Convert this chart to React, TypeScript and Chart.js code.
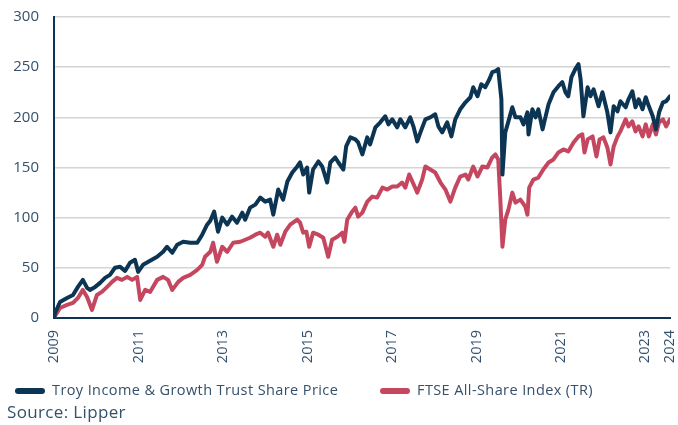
import React, { useEffect, useRef } from 'react';
import { Chart, registerables } from 'chart.js';

Chart.register(...registerables);

// x positions are months since the start of the series (Jan 2009 = 0)
const tickPositions = [0, 24, 48, 72, 96, 120, 144, 168, 175];
const tickLabels = ['2009', '2011', '2013', '2015', '2017', '2019', '2021', '2023', '2024'];
const yTicks = [0, 50, 100, 150, 200, 250, 300];

const seriesNames = ['Troy Income & Growth Trust Share Price', 'FTSE All-Share Index (TR)'];
const sourceText = 'Source: Lipper';

const troyMonths = [
  0, 0.3, 1.7, 3.7, 5.4, 6.8, 8.2, 9.4, 10.2, 11.7, 13.1, 14.5, 15.9, 17.3, 18.8, 20.2, 21.6, 23, 23.9, 25.3,
  27.3, 29.3, 31, 32.1, 33.6, 35, 36.7, 38.7, 40.7, 42.1, 43.5, 44.4, 45.5, 46.6, 47.8, 49.2, 50.6, 52, 53.5, 54.3,
  55.7, 57.2, 58.6, 60, 61.4, 62.3, 63.7, 65.1, 66.3, 67.7, 69.1, 69.9, 70.8, 71.9, 72.5, 73.6, 75.1, 76.2, 77.6, 78.5,
  79.9, 80.8, 82.2, 83, 84.2, 85.6, 86.4, 87.6, 89, 89.8, 91.3, 92.7, 94.1, 95, 96.1, 97.5, 98.4, 99.8, 101.2, 102.1,
  103.2, 104.1, 105.5, 106.9, 108.3, 109.2, 110.3, 111.7, 112.9, 114, 115.4, 116.9, 118.3, 119.1, 120.3, 121.4, 122.5, 123.7, 124.5, 125.4,
  126.2, 127.1, 127.4, 128.2, 129.1, 130.2, 131.1, 132.5, 133.4, 134.5, 134.8, 135.9, 136.8, 137.6, 138.8, 139.6, 140.5, 141.9, 143.3, 144.4,
  145.3, 146.1, 147, 148.1, 149, 149.6, 150.4, 151.6, 152.4, 153.3, 154.7, 155.8, 157.2, 158.1, 159, 160.1, 160.9, 162.4, 163.2, 164.3,
  165.2, 166.1, 167.2, 168.1, 169, 170.1, 171, 171.9, 173, 173.9, 175,
];
const troyValues = [
  0, 5, 16, 20, 23, 31, 38, 30, 28, 31, 35, 40, 43, 50, 51, 47, 55, 58, 46, 53,
  57, 61, 66, 71, 65, 73, 76, 75, 75, 83, 93, 97, 106, 86, 100, 93, 101, 95, 105, 98,
  110, 113, 120, 116, 118, 103, 128, 118, 136, 145, 151, 155, 143, 150, 125, 148, 156, 151, 135, 155,
  160, 155, 148, 171, 180, 178, 175, 163, 180, 173, 190, 195, 201, 193, 198, 190, 198, 190, 200, 191,
  176, 185, 198, 200, 203, 191, 185, 195, 181, 198, 208, 215, 220, 230, 221, 233, 230, 238, 245, 246,
  248, 218, 143, 185, 196, 210, 200, 200, 193, 205, 183, 208, 200, 208, 188, 200, 213, 225, 231, 235,
  225, 221, 240, 248, 253, 238, 201, 230, 221, 228, 211, 225, 205, 185, 211, 206, 216, 210, 218, 226,
  210, 218, 208, 220, 211, 201, 188, 205, 215, 216, 221,
];

const ftseMonths = [
  0, 0.3, 1.7, 3.7, 5.4, 6.8, 8.2, 9.4, 10.8, 12.2, 13.6, 15.1, 16.5, 17.9, 19.3, 20.8, 22.2, 23.6, 24.5, 25.9,
  27.3, 29.3, 31, 32.4, 33.6, 35.3, 36.7, 38.7, 40.7, 42.1, 42.9, 44.4, 45.2, 46.3, 47.8, 49.2, 50.9, 52.9, 54.3, 55.7,
  57.2, 58.6, 60, 60.8, 62.3, 63.4, 64.3, 65.7, 67.1, 69.1, 69.9, 70.8, 71.7, 72.5, 73.6, 75.1, 76.5, 77.9, 79, 80.5,
  81.9, 82.5, 83.3, 84.7, 85.6, 86.4, 87.6, 89, 90.4, 91.8, 93.3, 94.7, 96.1, 97.5, 98.9, 99.8, 100.9, 101.8, 103.2, 104.6,
  105.5, 106.9, 108.3, 109.8, 111.2, 112.6, 114, 115.4, 116.9, 117.7, 119.1, 120.3, 121.7, 123.1, 124.5, 125.4, 126.2, 126.8, 127.4, 128.2,
  129.1, 130.2, 131.1, 132.5, 133.9, 134.5, 135, 136.2, 137.6, 139, 140.5, 141.9, 143.3, 144.7, 146.1, 147.6, 149, 150.1, 150.7, 151.6,
  153, 154.1, 155, 156.1, 157.2, 158.1, 159, 160.1, 160.9, 162.4, 163.2, 164.3, 165.2, 166.1, 167.2, 168.1, 169, 170.1, 171, 171.9,
  173, 173.9, 175,
];
const ftseValues = [
  0, 2, 10, 13, 15, 20, 28, 21, 8, 23, 26, 31, 36, 40, 38, 41, 38, 41, 18, 28,
  26, 38, 41, 38, 28, 36, 40, 43, 48, 53, 61, 66, 75, 56, 71, 66, 75, 76, 78, 80,
  83, 85, 81, 85, 71, 83, 73, 86, 93, 98, 95, 85, 86, 71, 85, 83, 80, 61, 78, 81,
  85, 76, 98, 106, 110, 101, 105, 116, 121, 120, 130, 128, 131, 131, 135, 130, 143, 136, 125, 138,
  151, 148, 145, 135, 128, 116, 130, 141, 143, 138, 151, 141, 151, 150, 160, 163, 158, 118, 71, 98,
  108, 125, 115, 118, 111, 103, 130, 138, 140, 148, 155, 158, 165, 168, 166, 175, 181, 183, 165, 178,
  181, 161, 178, 180, 170, 153, 171, 181, 186, 198, 191, 196, 186, 191, 181, 193, 181, 193, 183, 195,
  198, 191, 198,
];

const NAVY = '#0c3554';
const RED = '#c4475f';
const TEXT = '#34506d';
const FONT = '"Open Sans", Lato, sans-serif';

export default function App() {
  const canvasRef = useRef<HTMLCanvasElement | null>(null);

  useEffect(() => {
    document.body.style.margin = '0';
    const canvas = canvasRef.current;
    if (!canvas) return;
    const chart = new Chart(canvas, {
      type: 'line',
      data: {
        datasets: [
          {
            label: seriesNames[0],
            data: troyMonths.map((m, i) => ({ x: m, y: troyValues[i] })),
            borderColor: NAVY,
            backgroundColor: NAVY,
            borderWidth: 4,
            pointRadius: 0,
            tension: 0,
            borderJoinStyle: 'round',
            borderCapStyle: 'round',
          },
          {
            label: seriesNames[1],
            data: ftseMonths.map((m, i) => ({ x: m, y: ftseValues[i] })),
            borderColor: RED,
            backgroundColor: RED,
            borderWidth: 4,
            pointRadius: 0,
            tension: 0,
            borderJoinStyle: 'round',
            borderCapStyle: 'round',
          },
        ],
      },
      options: {
        animation: false,
        responsive: false,
        maintainAspectRatio: false,
        layout: { padding: { top: 17, right: 0, left: 0, bottom: 0 } },
        scales: {
          x: {
            type: 'linear',
            min: 0,
            max: 175,
            afterBuildTicks: (scale: any) => {
              scale.ticks = tickPositions.map((v) => ({ value: v }));
            },
            afterFit: (scale: any) => {
              scale.height = 107;
              scale.paddingLeft = 0;
              scale.paddingRight = 8;
            },
            ticks: {
              autoSkip: false,
              minRotation: 90,
              maxRotation: 90,
              padding: 12,
              color: TEXT,
              font: { family: FONT, size: 14.5 },
              callback: (value: any) => {
                const i = tickPositions.indexOf(Number(value));
                return i >= 0 ? tickLabels[i] : '';
              },
            },
            grid: { display: false, drawTicks: false },
            border: { display: true, color: NAVY, width: 2 },
          },
          y: {
            min: 0,
            max: 300,
            afterBuildTicks: (scale: any) => {
              scale.ticks = yTicks.map((v) => ({ value: v }));
            },
            afterFit: (scale: any) => {
              scale.width = 54;
              scale.paddingTop = 0;
              scale.paddingBottom = 0;
            },
            ticks: {
              padding: 15,
              color: TEXT,
              font: { family: FONT, size: 15 },
            },
            grid: { color: '#d4d4d4', lineWidth: 1.5, drawTicks: false },
            border: { display: true, color: NAVY, width: 2 },
          },
        },
        plugins: {
          legend: { display: false },
          title: { display: false },
          tooltip: { enabled: false },
        },
      },
    });
    return () => chart.destroy();
  }, []);

  const textStyle: React.CSSProperties = {
    position: 'absolute',
    fontFamily: FONT,
    color: TEXT,
    whiteSpace: 'nowrap',
    margin: 0,
  };
  const swatch = (left: number, color: string): React.CSSProperties => ({
    position: 'absolute',
    left,
    top: 388,
    width: 30,
    height: 6,
    borderRadius: 3,
    background: color,
  });

  return (
    <div style={{ width: 678, height: 425, position: 'relative' }}>
      <canvas ref={canvasRef} width={678} height={425} style={{ width: 678, height: 425, display: 'block' }} />
      <div style={swatch(15, NAVY)} />
      <div style={{ ...textStyle, left: 52, top: 380.4, fontSize: 14.5, letterSpacing: 0.4, lineHeight: '20px' }}>{seriesNames[0]}</div>
      <div style={swatch(380, RED)} />
      <div style={{ ...textStyle, left: 417, top: 380.4, fontSize: 14.5, letterSpacing: 0.4, lineHeight: '20px' }}>{seriesNames[1]}</div>
      <div style={{ ...textStyle, left: 7, top: 399.7, fontSize: 17, letterSpacing: 0.35, lineHeight: '24px' }}>{sourceText}</div>
    </div>
  );
}
